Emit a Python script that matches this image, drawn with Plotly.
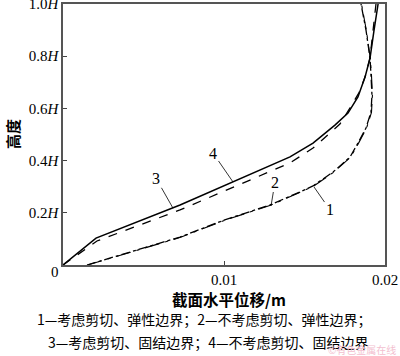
import plotly.graph_objects as go

# Curve 1: shear considered, elastic boundary
x1 = [0.00149, 0.00727, 0.0100, 0.01286, 0.01472, 0.01553, 0.01677, 0.01739, 0.01783, 0.01832, 0.01882, 0.01913, 0.01919, 0.01913, 0.01907, 0.01882, 0.01851]
y1 = [0.0, 0.107, 0.172, 0.230, 0.280, 0.303, 0.356, 0.391, 0.414, 0.467, 0.525, 0.586, 0.651, 0.728, 0.793, 0.900, 1.0]
# Curve 2: shear not considered, elastic boundary
x2 = [0.00152, 0.00730, 0.01003, 0.01289, 0.01475, 0.01556, 0.01680, 0.01742, 0.01786, 0.01835, 0.01885, 0.01916, 0.01922, 0.01916, 0.01908, 0.01884, 0.01854]
y2 = [0.0, 0.106, 0.171, 0.229, 0.279, 0.302, 0.355, 0.390, 0.413, 0.466, 0.524, 0.585, 0.650, 0.727, 0.793, 0.900, 1.0]
# Curve 3: shear considered, fixed boundary
x3 = [0.0, 0.00211, 0.00727, 0.01056, 0.0141, 0.01553, 0.0172, 0.01783, 0.01838, 0.01876, 0.01907, 0.01926, 0.01944]
y3 = [0.0, 0.092, 0.211, 0.299, 0.391, 0.448, 0.540, 0.602, 0.660, 0.720, 0.793, 0.900, 1.0]
# Curve 4: shear not considered, fixed boundary
x4 = [0.0, 0.00205, 0.00727, 0.01056, 0.0141, 0.01553, 0.01689, 0.0177, 0.01832, 0.01876, 0.01907, 0.01932, 0.01957]
y4 = [0.0, 0.103, 0.23, 0.318, 0.414, 0.467, 0.536, 0.582, 0.644, 0.720, 0.793, 0.900, 1.0]

xtick_vals = [0.01, 0.02]
xtick_text = ["0.01", "0.02"]
ytick_vals = [0.2, 0.4, 0.6, 0.8, 1.0]
ytick_text = ["0.2<i>H</i>", "0.4<i>H</i>", "0.6<i>H</i>", "0.8<i>H</i>", "1.0<i>H</i>"]

curve_labels = ["1", "2", "3", "4"]
label_tips = [(0.01559, 0.299), (0.01292, 0.226), (0.00683, 0.218), (0.01056, 0.318)]
label_offsets = [(16, 23), (4, -24), (-17, -30), (-20, -29)]

legend_line1 = "1—考虑剪切、弹性边界；2—不考虑剪切、弹性边界；"
legend_line2 = "3—考虑剪切、固结边界；4—不考虑剪切、固结边界"

serif = "Liberation Serif, Times New Roman, serif"
cjk = "Noto Sans CJK SC"

L, R, T, B = 63, 15, 4, 91
pw, ph = 400 - L - R, 356 - T - B


def px_to_paper(px, py):
    return (px - L) / pw, 1 - (py - T) / ph


fig = go.Figure()
fig.add_trace(go.Scatter(x=x1, y=y1, mode="lines", line=dict(color="black", width=1.3, dash="dashdot")))
fig.add_trace(go.Scatter(x=x2, y=y2, mode="lines", line=dict(color="black", width=1.1, dash="longdashdot")))
fig.add_trace(go.Scatter(x=x3, y=y3, mode="lines", line=dict(color="black", width=1.3, dash="dash")))
fig.add_trace(go.Scatter(x=x4, y=y4, mode="lines", line=dict(color="black", width=1.5)))

annotations = []
for lab, (tx, ty), (ax, ay) in zip(curve_labels, label_tips, label_offsets):
    annotations.append(dict(x=tx, y=ty, xref="x", yref="y", text=lab, showarrow=True,
                            arrowhead=0, arrowwidth=0.8, arrowcolor="black", ax=ax, ay=ay,
                            font=dict(family=serif, size=16, color="black"), standoff=0))


def add_text(px, py, text, size, family=cjk, color="black", angle=0, xanchor="center"):
    x, y = px_to_paper(px, py)
    annotations.append(dict(x=x, y=y, xref="paper", yref="paper", text=text, showarrow=False,
                            xanchor=xanchor, yanchor="middle", textangle=angle,
                            font=dict(family=family, size=size, color=color)))


add_text(55, 272, "0", 15, family=serif)
add_text(229, 299, "<b>截面水平位移/m</b>", 15.5)
add_text(12, 134, "<b>高度</b>", 15, angle=-90)
add_text(204, 319, legend_line1, 14)
add_text(208, 342, legend_line2, 14)
add_text(398, 349, "©有色金属在线", 10, color="#f3c0cf", xanchor="right")

fig.update_layout(
    width=400, height=356,
    margin=dict(l=L, r=R, t=T, b=B, autoexpand=False),
    paper_bgcolor="white", plot_bgcolor="white",
    showlegend=False,
    annotations=annotations,
    xaxis=dict(range=[0, 0.02], tickvals=xtick_vals, ticktext=xtick_text, ticks="inside", ticklen=4,
               tickcolor="#444", showline=True, linecolor="#555", linewidth=1.5, mirror=True,
               showgrid=False, zeroline=False, automargin=False, ticklabeloverflow="allow",
               tickfont=dict(family=serif, size=15, color="black")),
    yaxis=dict(range=[0, 1.0], tickvals=ytick_vals, ticktext=ytick_text, ticks="inside", ticklen=4,
               tickcolor="#444", showline=True, linecolor="#555", linewidth=1.5, mirror=True,
               showgrid=False, zeroline=False, automargin=False, ticklabeloverflow="allow",
               tickfont=dict(family=serif, size=15, color="black")),
)
fig.write_html("out.html", config={"displayModeBar": False},
               post_script="document.body.style.margin='0';document.body.style.padding='0';")
